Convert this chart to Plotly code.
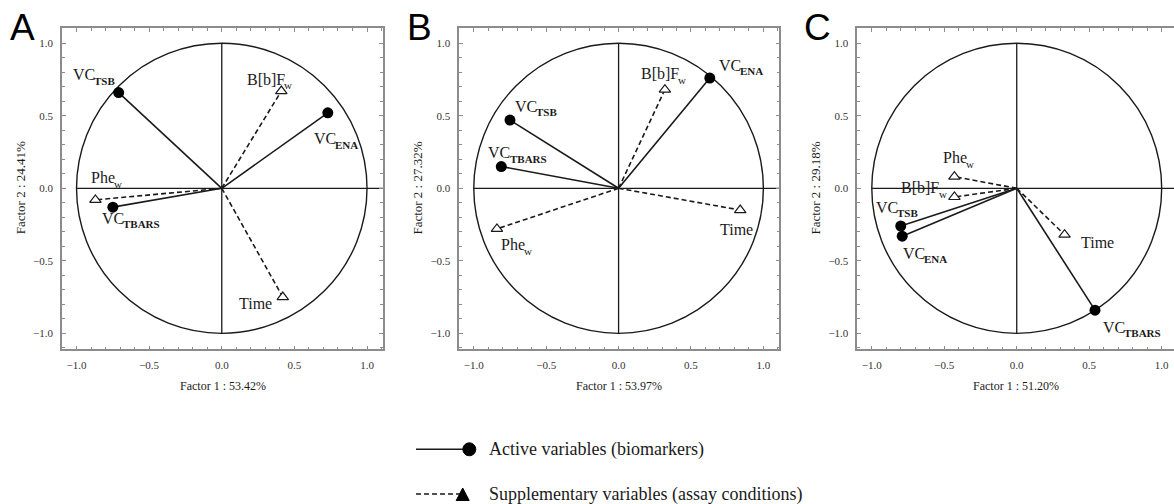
import plotly.graph_objects as go

W, H = 1174, 504
SERIF = "Liberation Serif, Times New Roman, serif"
SANS = "Liberation Sans, Arial, sans-serif"

# ---- data -------------------------------------------------------------
panel_letters = ["A", "B", "C"]
factor1_pct = ["53.42", "53.97", "51.20"]
factor2_pct = ["24.41", "27.32", "29.18"]

# active variables (biomarkers): name and subscript
active_names = [("VC", "TSB"), ("VC", "ENA"), ("VC", "TBARS")]
A_active_x = [-0.71, 0.73, -0.75]
A_active_y = [0.66, 0.52, -0.13]
B_active_x = [-0.75, 0.63, -0.81]
B_active_y = [0.47, 0.76, 0.15]
C_active_x = [-0.80, -0.79, 0.54]
C_active_y = [-0.26, -0.33, -0.84]

# supplementary variables (assay conditions)
supp_names = [("Phe", "w"), ("B[b]F", "w"), ("Time", "")]
A_supp_x = [-0.87, 0.41, 0.42]
A_supp_y = [-0.08, 0.67, -0.75]
B_supp_x = [-0.84, 0.32, 0.84]
B_supp_y = [-0.28, 0.68, -0.15]
C_supp_x = [-0.43, -0.43, 0.33]
C_supp_y = [0.08, -0.06, -0.32]

# label centre offsets from each point, in pixels (dx right, dy up)
A_active_off = [(-26, 16), (7, -28), (17, -13)]
A_supp_off = [(10, 20), (-13, 10), (-29, -6)]
B_active_off = [(25, 12), (30, 11), (15, 12)]
B_supp_off = [(18, -18), (-3, 14), (-5, -19)]
C_active_off = [(-5, 17), (22, -19), (36, -19)]
C_supp_off = [(3, 17), (-32, 7), (31, -8)]

panels = [
    (A_active_x, A_active_y, A_active_off, A_supp_x, A_supp_y, A_supp_off),
    (B_active_x, B_active_y, B_active_off, B_supp_x, B_supp_y, B_supp_off),
    (C_active_x, C_active_y, C_active_off, C_supp_x, C_supp_y, C_supp_off),
]

# ---- layout geometry (pixels) ----------------------------------------
frame_left = [62.0, 459.3, 857.3]
frame_right = [383.0, 779.3, 1174.0]
frame_top, frame_bottom = 28.0, 349.3
x_ranges = [[-1.10, 1.11], [-1.10, 1.11], [-1.10, 1.085]]
y_range = [-1.11, 1.105]

FRAME = "#8c8c8c"
INK = "#1a1a1a"
DASH = "5px,3px"
LABEL_SIZE = 16
SUB_SIZE = 11

# Times-style advance widths (em) used to centre name + subscript pairs
CHAR_EM = {"V": .722, "C": .667, "P": .556, "h": .5, "e": .444, "B": .667, "[": .333,
           "b": .5, "]": .333, "F": .556, "T": .611, "i": .278, "m": .778, "w": .722,
           "S": .556, "E": .611, "N": .722, "A": .722, "R": .667}


def text_width(s, size, bold=False):
    return sum(CHAR_EM.get(c, .5) for c in s) * size * (1.06 if bold else 1.0)


fig = go.Figure()
annotations = []
shapes = []


def add_label(xa, ya, x, y, name, sub, dx, dy):
    bold_sub = sub.isupper()
    wb = text_width(name, LABEL_SIZE)
    ws = text_width(sub, SUB_SIZE, bold_sub) if sub else 0.0
    left = dx - (wb + ws) / 2
    annotations.append(dict(x=x, y=y, xref=xa, yref=ya, text=name, showarrow=False,
                            xshift=left, yshift=dy + (2 if sub else 0),
                            xanchor="left", yanchor="middle",
                            font=dict(family=SERIF, size=LABEL_SIZE, color=INK)))
    if sub:
        annotations.append(dict(x=x, y=y, xref=xa, yref=ya,
                                text=f"<b>{sub}</b>" if bold_sub else sub, showarrow=False,
                                xshift=left + wb - 1, yshift=dy - 4,
                                xanchor="left", yanchor="middle",
                                font=dict(family=SERIF, size=SUB_SIZE, color=INK)))


for i, (ax_, ay_, aoff, sx_, sy_, soff) in enumerate(panels):
    n = "" if i == 0 else str(i + 1)
    xa, ya = "x" + n, "y" + n

    # unit circle and the two reference axes
    shapes.append(dict(type="circle", xref=xa, yref=ya, x0=-1, y0=-1, x1=1, y1=1,
                       line=dict(color=INK, width=1.4), layer="below"))
    shapes.append(dict(type="line", xref=xa, yref=ya, x0=0, x1=0, y0=-1, y1=1,
                       line=dict(color=INK, width=1.3), layer="below"))
    shapes.append(dict(type="line", xref=xa, yref=ya, x0=-1, x1=x_ranges[i][1], y0=0, y1=0,
                       line=dict(color=INK, width=1.3), layer="below"))

    # supplementary vectors (dashed, open triangles)
    for k in range(len(sx_)):
        fig.add_trace(go.Scatter(x=[0, sx_[k]], y=[0, sy_[k]], mode="lines",
                                 line=dict(color=INK, width=1.6, dash=DASH),
                                 xaxis=xa, yaxis=ya, showlegend=False, hoverinfo="skip"))
    fig.add_trace(go.Scatter(x=sx_, y=sy_, mode="markers",
                             marker=dict(symbol="triangle-up", size=10, color="white",
                                         line=dict(color=INK, width=1.2)),
                             xaxis=xa, yaxis=ya, showlegend=False, hoverinfo="skip"))
    # active vectors (solid, filled circles)
    for k in range(len(ax_)):
        fig.add_trace(go.Scatter(x=[0, ax_[k]], y=[0, ay_[k]], mode="lines",
                                 line=dict(color=INK, width=1.6),
                                 xaxis=xa, yaxis=ya, showlegend=False, hoverinfo="skip"))
    fig.add_trace(go.Scatter(x=ax_, y=ay_, mode="markers",
                             marker=dict(symbol="circle", size=11, color="black"),
                             xaxis=xa, yaxis=ya, showlegend=False, hoverinfo="skip"))

    # variable labels
    for names, xs, ys, offs in ((active_names, ax_, ay_, aoff), (supp_names, sx_, sy_, soff)):
        for (name, sub), x, y, (dx, dy) in zip(names, xs, ys, offs):
            add_label(xa, ya, x, y, name, sub, dx, dy)

    # axis titles
    cx = (frame_left[i] + min(frame_right[i], frame_left[i] + 321)) / 2
    annotations.append(dict(x=cx / W, y=1 - 386 / H, xref="paper", yref="paper",
                            text=f"Factor 1 : {factor1_pct[i]}%", showarrow=False,
                            xanchor="center", yanchor="middle",
                            font=dict(family=SERIF, size=12, color=INK)))
    annotations.append(dict(x=(frame_left[i] - 42) / W, y=1 - 188.3 / H, xref="paper", yref="paper",
                            text=f"Factor 2 : {factor2_pct[i]}%", showarrow=False, textangle=-90,
                            xanchor="center", yanchor="middle",
                            font=dict(family=SERIF, size=13, color=INK)))
    # panel letter
    annotations.append(dict(x=(frame_left[i] - 40) / W, y=1 - 27 / H, xref="paper", yref="paper",
                            text=panel_letters[i], showarrow=False, xanchor="center", yanchor="middle",
                            font=dict(family=SANS, size=37, color="black")))

    axis_common = dict(showline=True, linecolor=FRAME, linewidth=1.5,
                       ticks="inside", ticklen=4, tickwidth=1, tickcolor=FRAME,
                       dtick=0.5, tick0=0, tickformat=".1f",
                       minor=dict(dtick=0.1, ticks="inside", ticklen=3, tickcolor=FRAME, tickwidth=1),
                       showgrid=False, zeroline=False, fixedrange=True,
                       tickfont=dict(family=SERIF, size=11, color="#333333"))
    fig.layout["xaxis" + n] = dict(axis_common,
                                   domain=[frame_left[i] / W, frame_right[i] / W],
                                   range=x_ranges[i], anchor=ya, mirror="allticks",
                                   ticklabelstandoff=5)
    fig.layout["yaxis" + n] = dict(axis_common,
                                   domain=[1 - frame_bottom / H, 1 - frame_top / H],
                                   range=y_range, anchor=xa,
                                   mirror="allticks" if i < 2 else False,
                                   ticklabelstandoff=5)

# ---- legend key ---------------------------------------------------------
def px(x):
    return x / W


def py(y):
    return 1 - y / H


legend_rows = [
    ("Active variables (biomarkers)", 449.3, "solid"),
    ("Supplementary variables (assay conditions)", 494.0, DASH),
]
for text, yy, dash in legend_rows:
    shapes.append(dict(type="line", xref="paper", yref="paper", x0=px(416), x1=px(463),
                       y0=py(yy), y1=py(yy), line=dict(color=INK, width=1.5, dash=dash)))
    annotations.append(dict(x=px(487), y=py(yy), xref="paper", yref="paper", text=text,
                            showarrow=False, xanchor="left", yanchor="middle",
                            font=dict(family=SERIF, size=18, color=INK)))
# circle key
r = 6.5
shapes.append(dict(type="circle", xref="paper", yref="paper",
                   x0=px(469.3 - r), x1=px(469.3 + r), y0=py(449.3 + r), y1=py(449.3 - r),
                   fillcolor="black", line=dict(color="black", width=1)))
# filled triangle key
tx, ty = 462.7, 494.5
path = f"M {px(tx - 6.5)} {py(ty + 6)} L {px(tx + 6.5)} {py(ty + 6)} L {px(tx)} {py(ty - 6.5)} Z"
shapes.append(dict(type="path", xref="paper", yref="paper", path=path,
                   fillcolor="black", line=dict(color="black", width=1)))

fig.update_layout(width=W, height=H, margin=dict(l=0, r=0, t=0, b=0),
                  paper_bgcolor="white", plot_bgcolor="white",
                  shapes=shapes, annotations=annotations, showlegend=False)

fig.write_html("out.html")
